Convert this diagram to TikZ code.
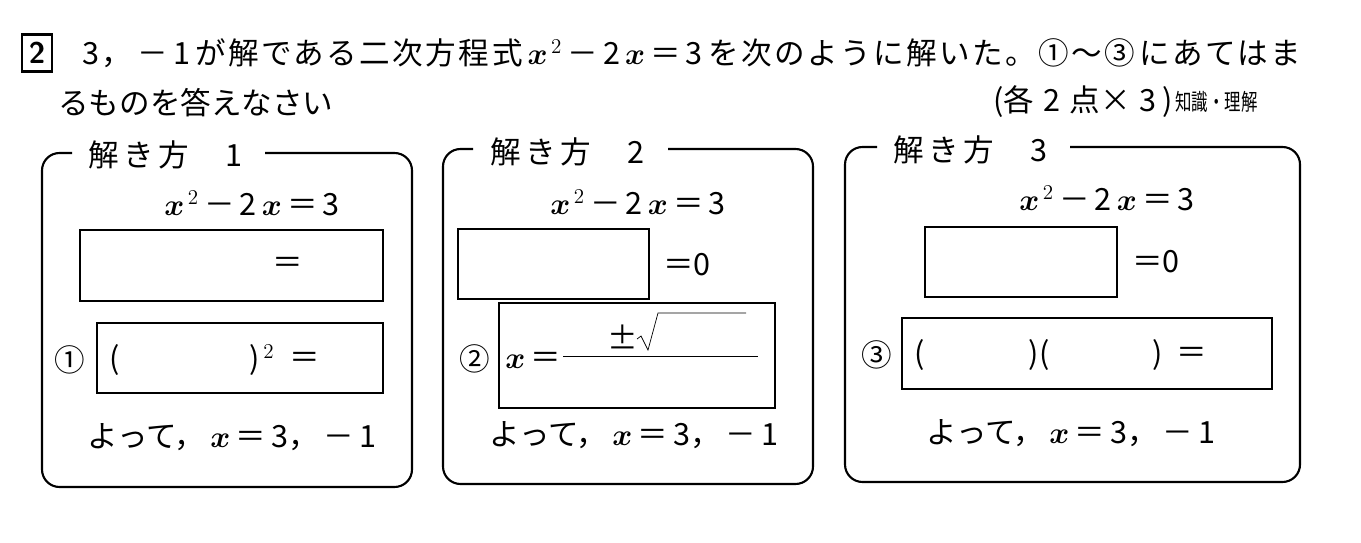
\documentclass[tikz,border=0pt]{standalone}
\usepackage{fontspec}
\setmainfont{Noto Sans CJK JP}
\usetikzlibrary{positioning}
\newcommand{\xv}{{\boldmath$x$}}
\newcommand{\eqn}{\xv$^{\,2}$\,－\,2\,\xv\,＝\,3}
\newcommand{\sotte}{よって，\,\xv\,＝\,3，\,－\,1}

\begin{document}
\begin{tikzpicture}[x=0.02cm, y=-0.02cm,
  every node/.style={inner sep=0pt, font=\fontsize{17.4}{20}\selectfont},
  blank/.style={line width=1.2pt},
  panel/.style={line width=1.2pt, rounded corners=3.5mm}]
  \useasboundingbox (0,0) rectangle (1361,543);

  % Question
  \node[draw, line width=1.2pt, minimum width=0.6cm, minimum height=0.74cm,
    font=\sffamily\bfseries\fontsize{17}{20}\selectfont] (qnum) at (37,53) {2};
  \node[anchor=west, font=\fontsize{17.4}{20}\selectfont\addfontfeatures{LetterSpace=8}] (lineA) at (82,53)
    {3，\,－\,1\,が解である二次方程式\,\eqn\,を次のように解いた。①〜③\,にあてはま};
  \node[anchor=west] (lineB) at (58,103) {るものを答えなさい};
  \node[anchor=west] (score) at (993,102) {(各\hspace{0.3em}2\hspace{0.3em}点×\hspace{0.3em}3\hspace{0.2em})};
  \node[anchor=west] (skill) at (1175,102) {\scalebox{0.72}[1]{\fontsize{13}{15}\selectfont 知識・理解}};

  % Method 1
  \draw[panel] (265,153) -- (412,153) -- (412,487) -- (42,487) -- (42,153) -- (72,153);
  \node[anchor=west] (tA) at (88,155) {解\hspace{0.15em}き\hspace{0.15em}方\hspace{1.2em}1};
  \node (eqA) at (252,203) {\eqn};
  \draw[blank] (80,230) rectangle (383,301);
  \node (eqA2) at (288,265) {＝};
  \node (numA) at (70,360) {①};
  \draw[blank] (97,323) rectangle (383,393);
  \node (openA) at (115,360) {(};
  \node (closeA) at (262,360) {)$^{\,2}$};
  \node (eqA3) at (305,360) {＝};
  \node (soA) at (232,437) {\sotte};

  % Method 2
  \draw[panel] (668,149) -- (813,149) -- (813,484) -- (443,484) -- (443,149) -- (473,149);
  \node[anchor=west] (tB) at (490,152) {解\hspace{0.15em}き\hspace{0.15em}方\hspace{1.2em}2};
  \node (eqB) at (638,202) {\eqn};
  \draw[blank] (458,229) rectangle (649,299);
  \node[anchor=west] (zeroB) at (663,265) {＝0};
  \node (numB) at (475,359) {②};
  \draw[blank] (499,303) rectangle (775,408);
  \node[anchor=west] (xB) at (505,360) {\xv\,＝};
  \node (pmB) at (623,337) {±};
  \draw (563,356) -- (758,356);
  \draw (637,339) -- (641,336) -- (648,350) -- (658,313) -- (746,313);
  \node (soB) at (634,435) {\sotte};

  % Method 3
  \draw[panel] (1070,147) -- (1300,147) -- (1300,482) -- (845,482) -- (845,147) -- (877,147);
  \node[anchor=west] (tC) at (893,150) {解\hspace{0.15em}き\hspace{0.15em}方\hspace{1.2em}3};
  \node (eqC) at (1107,198) {\eqn};
  \draw[blank] (925,227) rectangle (1117,297);
  \node[anchor=west] (zeroC) at (1132,262) {＝0};
  \node (numC) at (877,355) {③};
  \draw[blank] (902,318) rectangle (1272,389);
  \node (openC) at (920,355) {(};
  \node (midC) at (1039,355) {)(};
  \node (closeC) at (1158,355) {)};
  \node (eqC3) at (1192,355) {＝};
  \node (soC) at (1071,433) {\sotte};
\end{tikzpicture}
\end{document}
